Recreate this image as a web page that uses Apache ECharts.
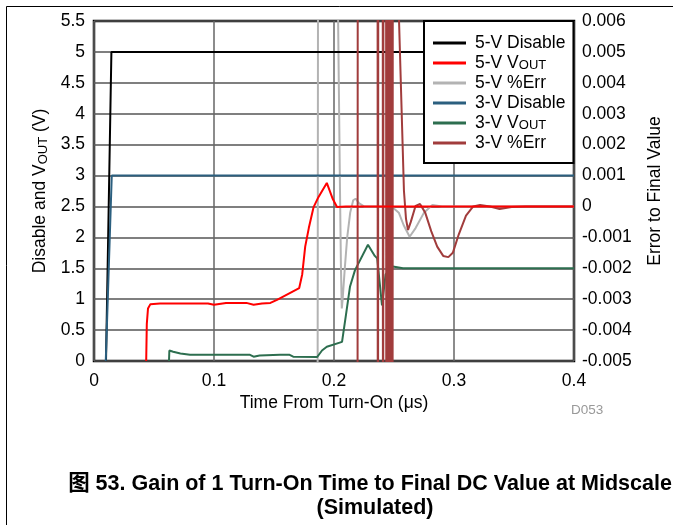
<!DOCTYPE html>
<html>
<head>
<meta charset="utf-8">
<script src="https://cdn.jsdelivr.net/npm/echarts@6/dist/echarts.min.js"></script>
<style>
  html, body { margin: 0; padding: 0; background: #fff; }
  #chart { width: 673px; height: 525px; }
</style>
</head>
<body>
<div id="chart"></div>
<script>
// time in µs, left axis in V, right axis in error to final value
const xTicks = [0, 0.1, 0.2, 0.3, 0.4]
const seriesNames = ['5-V Disable', '5-V VOUT', '5-V %Err', '3-V Disable', '3-V VOUT', '3-V %Err']

const disable5 = [[0.0100, 0], [0.0145, 5], [0.4, 5]]
const disable3 = [[0.0098, 0], [0.0148, 3], [0.4, 3]]

const vout5 = [
  [0.0435, 0], [0.0440, 0.6], [0.0450, 0.85], [0.0470, 0.92], [0.0550, 0.93], [0.0950, 0.93],
  [0.1000, 0.91], [0.1100, 0.94], [0.1270, 0.94], [0.1330, 0.91], [0.1400, 0.93], [0.1470, 0.94],
  [0.1525, 0.99], [0.1710, 1.18], [0.1735, 1.40], [0.1760, 1.85], [0.1790, 2.15], [0.1830, 2.49],
  [0.1870, 2.65], [0.1940, 2.88], [0.1990, 2.62], [0.2025, 2.49], [0.2100, 2.50], [0.4, 2.50]
]

const vout3 = [
  [0.0625, 0], [0.0628, 0.17], [0.0660, 0.15], [0.0720, 0.12], [0.0800, 0.10], [0.1300, 0.10],
  [0.1330, 0.07], [0.1380, 0.09], [0.1550, 0.10], [0.1630, 0.10], [0.1660, 0.07], [0.1860, 0.065],
  [0.1900, 0.17], [0.1940, 0.23], [0.2067, 0.31], [0.2100, 0.75], [0.2133, 1.20], [0.2175, 1.47],
  [0.2283, 1.88], [0.2340, 1.70], [0.2360, 1.66], [0.2400, 0.90], [0.2430, 1.40], [0.2490, 1.53],
  [0.2575, 1.50], [0.4, 1.50]
]

const err5 = [
  [0, -0.02], [0.1860, -0.02], [0.1870, 0.02], [0.2020, 0.02], [0.2030, 0.0075], [0.2040, 0.004],
  [0.2050, 0.0005], [0.2058, -0.002], [0.2065, -0.0033], [0.2072, -0.0030], [0.2090, -0.0020],
  [0.2110, -0.0010], [0.2135, -0.0002], [0.2160, 0.0002], [0.2180, 0.00025], [0.2210, 0.0001],
  [0.2250, 0], [0.2480, 0], [0.2540, -0.0002], [0.2580, -0.0006], [0.2630, -0.00098],
  [0.2680, -0.0007], [0.2750, -0.0002], [0.2820, 0.00005], [0.2900, 0], [0.4, 0]
]

const err3 = [
  [0, -0.02], [0.2195, -0.02], [0.2199, 0.02], [0.2362, 0.02], [0.2366, -0.02], [0.2370, 0.02],
  [0.2405, 0.02], [0.2409, -0.02], [0.2413, 0.02], [0.2433, 0.02], [0.2437, -0.02], [0.2441, 0.02],
  [0.2447, 0.02], [0.2451, -0.02], [0.2455, 0.02], [0.2461, 0.02], [0.2465, -0.02], [0.2469, 0.02],
  [0.2475, 0.02], [0.2479, -0.02], [0.2483, 0.02], [0.2487, -0.02], [0.2491, 0.02], [0.2520, 0.015],
  [0.2542, 0.0060], [0.2583, 0.0005], [0.2600, -0.0004], [0.2617, -0.00076], [0.2640, -0.0005],
  [0.2680, 0.00002], [0.2717, 0.00008], [0.2760, -0.0002], [0.2810, -0.0008], [0.2860, -0.0013],
  [0.2910, -0.0016], [0.2953, -0.00164], [0.2990, -0.0015], [0.3040, -0.0009], [0.3100, -0.0003],
  [0.3160, 0.0000], [0.3217, 0.00005], [0.3300, 0.0000], [0.3380, -0.00008], [0.3480, -0.00002],
  [0.3600, 0], [0.4, 0]
]

const font = '"Liberation Sans", Arial, "Noto Sans CJK SC", sans-serif'
const fs = 17.5
const richSub = {
  sub: { fontSize: 13, lineHeight: 10, verticalAlign: 'bottom', fontFamily: font, color: '#000' }
}

const chart = echarts.init(document.getElementById('chart'), null, { renderer: 'canvas' })

const line = (name, data, color, yAxisIndex, z) => ({
  name,
  type: 'line',
  data,
  yAxisIndex,
  color,
  symbol: 'none',
  showSymbol: false,
  clip: true,
  z,
  lineStyle: { color, width: 2 }
})

const option = {
  animation: false,
  backgroundColor: '#fff',
  textStyle: { fontFamily: font },
  grid: {
    left: 94, right: 99, top: 21, bottom: 164,
    show: true, borderColor: '#000', borderWidth: 2.5, backgroundColor: 'transparent'
  },
  legend: {
    orient: 'vertical',
    left: 424,
    top: 21,
    padding: [13, 8, 11, 9],
    itemGap: 2,
    itemWidth: 33,
    itemHeight: 3,
    icon: 'rect',
    backgroundColor: '#fff',
    borderColor: '#000',
    borderWidth: 2,
    borderRadius: 0,
    data: seriesNames,
    formatter: (name) => name.replace('VOUT', 'V{sub|OUT}'),
    textStyle: {
      fontSize: fs, lineHeight: 18, color: '#000', fontFamily: font,
      padding: [0, 0, 0, 4],
      rich: richSub
    }
  },
  xAxis: {
    type: 'value',
    min: 0, max: 0.4, interval: 0.1,
    name: 'Time From Turn-On (μs)',
    nameLocation: 'middle',
    nameGap: 33,
    nameTextStyle: { fontSize: fs, color: '#000', fontFamily: font },
    axisLine: { show: false },
    axisTick: { show: false },
    axisLabel: {
      fontSize: fs, color: '#000', margin: 11, fontFamily: font,
      formatter: (v) => String(+v.toFixed(1))
    },
    splitLine: { show: true, lineStyle: { color: '#666', width: 1.5 } }
  },
  yAxis: [
    {
      type: 'value',
      min: 0, max: 5.5, interval: 0.5,
      name: 'Disable and V{sub|OUT} (V)',
      nameLocation: 'middle',
      nameRotate: 90,
      nameGap: 43,
      nameTextStyle: { fontSize: fs, lineHeight: 20, color: '#000', fontFamily: font, rich: richSub },
      axisLine: { show: false },
      axisTick: { show: false },
      axisLabel: {
        fontSize: fs, color: '#000', margin: 9, fontFamily: font,
        formatter: (v) => String(+v.toFixed(1))
      },
      splitLine: { show: true, lineStyle: { color: '#555', width: 1.5 } }
    },
    {
      type: 'value',
      position: 'right',
      min: -0.005, max: 0.006, interval: 0.001,
      name: 'Error to Final Value',
      nameLocation: 'middle',
      nameRotate: 90,
      nameGap: 72,
      nameTextStyle: { fontSize: fs, color: '#000', fontFamily: font },
      axisLine: { show: false },
      axisTick: { show: false },
      axisLabel: {
        fontSize: fs, color: '#000', margin: 8, fontFamily: font,
        formatter: (v) => (Math.abs(v) < 1e-9 ? '0' : v.toFixed(3))
      },
      splitLine: { show: false }
    }
  ],
  series: [
    line(seriesNames[0], disable5, '#000000', 0, 3),
    line(seriesNames[1], vout5, '#ff0000', 0, 5),
    line(seriesNames[2], err5, '#b3b3b3', 1, 2),
    line(seriesNames[3], disable3, '#2b5f7f', 0, 3),
    line(seriesNames[4], vout3, '#2d6e4f', 0, 3),
    line(seriesNames[5], err3, '#a13c3c', 1, 4)
  ],
  graphic: [
    {
      type: 'polyline',
      silent: true,
      shape: { points: [[6.5, 525], [6.5, 6.5], [673, 6.5]] },
      style: { stroke: '#000', lineWidth: 1, fill: null }
    },
    {
      type: 'text', left: 571, top: 404, silent: true,
      style: { text: 'D053', font: '13.5px ' + font, fill: '#999' }
    },
    {
      type: 'text', x: 370, y: 484, silent: true,
      style: {
        text: '图 53. Gain of 1 Turn-On Time to Final DC Value at Midscale',
        font: 'bold 21.5px ' + font, fill: '#000', align: 'center', verticalAlign: 'middle'
      }
    },
    {
      type: 'text', x: 375, y: 508, silent: true,
      style: {
        text: '(Simulated)',
        font: 'bold 21.5px ' + font, fill: '#000', align: 'center', verticalAlign: 'middle'
      }
    }
  ]
}

chart.setOption(option)
</script>
</body>
</html>
